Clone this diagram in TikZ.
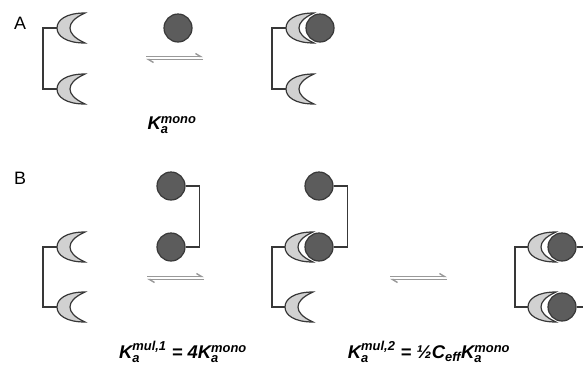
\documentclass[tikz,border=0pt]{standalone}
\usepackage{amsmath}
\usepackage{fontspec}
\setmainfont{Liberation Sans}
\usetikzlibrary{arrows.meta}

\definecolor{ringgray}{gray}{0.82}
\definecolor{ballgray}{gray}{0.36}
\definecolor{edgegray}{gray}{0.22}

\begin{document}
\begin{tikzpicture}[
    x=1bp, y=-1bp,
    link/.style={draw=edgegray, line width=1.3bp},
    ball/.style={circle, draw=edgegray, fill=ballgray, line width=1.2bp,
                 minimum size=28bp, inner sep=0pt},
    eqline/.style={draw=gray!80, line width=1.4bp,
                   -{Straight Barb[left, length=5bp, width=6bp]}},
    panel/.style={font=\fontsize{18}{20}\selectfont},
    konst/.style={font=\fontsize{18.5}{22}\selectfont\bfseries\itshape},
    crescent/.pic={
        \coordinate (-w) at (0,0);
        \filldraw[fill=ringgray, draw=edgegray, line width=1.2bp]
            (28,-15) .. controls (9,-15) and (0,-8) .. (0,0)
            .. controls (0,8) and (9,15) .. (28,15)
            .. controls (17,10) and (13,5) .. (13,0)
            .. controls (13,-5) and (17,-10) .. (28,-15) -- cycle;
    },
]
\clip (0,0) rectangle (583,367);

% ---------------- A: monovalent binding ----------------
\node[panel] (labA) at (20,23) {A};

% free receptor
\pic (rA1) at (57,28) {crescent};
\pic (rA2) at (57,89) {crescent};
\draw[link] (rA1-w) -- ++(-14,0) |- (rA2-w);

% free ligand
\node[ball] (ligA) at (178,28) {};

% equilibrium
\coordinate (eqA1) at (146,56.5);
\coordinate (eqA2) at (203,56.5);
\draw[eqline] (eqA1) -- (eqA2);
\draw[eqline] (eqA2 |- 0,59.5) -- (eqA1 |- 0,59.5);

% complex
\pic (pA1) at (286,28) {crescent};
\pic (pA2) at (286,89) {crescent};
\draw[link] (pA1-w) -- ++(-14,0) |- (pA2-w);
\node[ball] (boundA) at (320,28) {};

\node[konst] (kA) at (172,125) {K$_{\text{a}}^{\text{mono}}$};

% ---------------- B: divalent binding ----------------
\node[panel] (labB) at (20,178) {B};

% free receptor
\pic (rB1) at (57,247) {crescent};
\pic (rB2) at (57,307) {crescent};
\draw[link] (rB1-w) -- ++(-14,0) |- (rB2-w);

% divalent ligand
\node[ball] (ligB1) at (171,186) {};
\node[ball] (ligB2) at (171,247) {};
\draw[link] (ligB1.east) -- ++(14,0) |- (ligB2.east);

% first step
\coordinate (eqB1) at (147,276.5);
\coordinate (eqB2) at (204,276.5);
\draw[eqline] (eqB1) -- (eqB2);
\draw[eqline] (eqB2 |- 0,279.5) -- (eqB1 |- 0,279.5);

% singly bound intermediate
\pic (iB1) at (285,247) {crescent};
\pic (iB2) at (285,307) {crescent};
\draw[link] (iB1-w) -- ++(-13,0) |- (iB2-w);
\node[ball] (iL1) at (319,186) {};
\node[ball] (iL2) at (319,247) {};
\draw[link] (iL1.east) -- ++(14,0) |- (iL2.east);

% second step
\coordinate (eqB3) at (390,276.5);
\coordinate (eqB4) at (447,276.5);
\draw[eqline] (eqB3) -- (eqB4);
\draw[eqline] (eqB4 |- 0,279.5) -- (eqB3 |- 0,279.5);

% doubly bound complex
\pic (fB1) at (528,247) {crescent};
\pic (fB2) at (528,307) {crescent};
\draw[link] (fB1-w) -- ++(-13,0) |- (fB2-w);
\node[ball] (fL1) at (562,247) {};
\node[ball] (fL2) at (562,307) {};
\draw[link] (fL1.east) -- ++(14,0) |- (fL2.east);

\node[konst] (kB1) at (183,352)
    {K$_{\text{a}}^{\text{mul,1}}$\;=\;4K$_{\text{a}}^{\text{mono}}$};
\node[konst] (kB2) at (429,352)
    {K$_{\text{a}}^{\text{mul,2}}$\;=\;½C$_{\text{eff}}$K$_{\text{a}}^{\text{mono}}$};
\end{tikzpicture}
\end{document}
